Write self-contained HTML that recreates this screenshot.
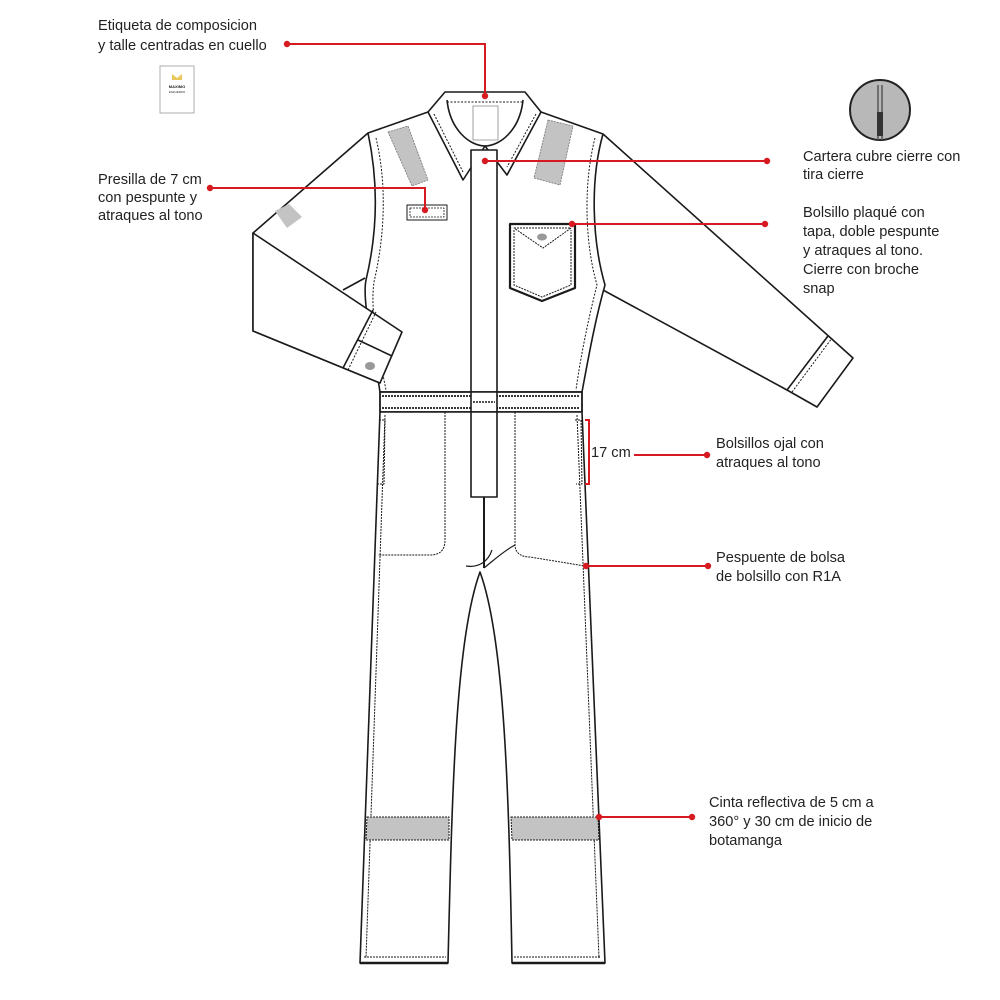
<!DOCTYPE html>
<html><head><meta charset="utf-8"><style>
body{margin:0;background:#fff;width:1000px;height:1000px;overflow:hidden}
svg{display:block}
text{font-family:"Liberation Sans",sans-serif;font-size:14.6px;fill:#222}
</style></head><body>
<svg width="1000" height="1000" viewBox="0 0 1000 1000" xmlns="http://www.w3.org/2000/svg">
<g fill="none" stroke="#1a1a1a" stroke-width="1.6" stroke-linejoin="round">
<path d="M368,133 L253,233 L253,331 L380,383 L402,332" fill="#fff"/>
<path d="M603,134 L853,358 L817,407 L787,390 L603,290" fill="#fff"/>
<path d="M787,390 L828,336" />
<path d="M792,392 L832,338" stroke-dasharray="2 1.5" stroke-width="1"/>
<path d="M368,133 L428,112 L541,112 L603,134 C590,180 592,240 605,285 C595,320 588,360 582,392 L380,392 C372,340 362,300 366,280 C378,230 378,180 368,133 Z" fill="#fff"/>
<path d="M376,138 C386,180 386,230 374,282 C370,310 378,350 386,390" stroke-dasharray="2 1.5" stroke-width="1"/>
<path d="M595,138 C584,180 584,240 597,285 C588,320 580,360 576,390" stroke-dasharray="2 1.5" stroke-width="1"/>
<path d="M253,233 L402,332 L380,383 L253,331 Z" fill="#fff"/>
<path d="M343,290 L365,278" />
<path d="M343,368 L373,310 M358,340 L392,356" />
<path d="M348,370 L376,312" stroke-dasharray="2 1.5" stroke-width="1"/>
<path d="M445,92 L525,92 L541,112 L507,175 L485,146 L463,180 L428,112 Z" fill="#fff"/>
<path d="M447,100 C450,130 470,146 485,146 C500,146 520,130 523,100" />
<path d="M447,102 L523,102" stroke-dasharray="2 1.5" stroke-width="1"/>
<path d="M434,114 L463,172 M536,114 L507,167" stroke-dasharray="2 1.5" stroke-width="1"/>
<rect x="473" y="106" width="25" height="34" stroke-width="0.8" stroke="#888"/>
<path d="M388,132 L408,126 L428,180 L412,186 Z" fill="#c3c3c3" stroke="#777" stroke-dasharray="2 1" stroke-width="0.8"/>
<path d="M548,120 L573,126 L560,185 L534,178 Z" fill="#c3c3c3" stroke="#777" stroke-dasharray="2 1" stroke-width="0.8"/>
<path d="M275,211 L289,204 L302,217 L287,228 Z" fill="#c3c3c3" stroke="none"/>
<ellipse cx="370" cy="366" rx="5" ry="4" fill="#999" stroke="none"/>
<rect x="407" y="205" width="40" height="15" stroke-width="1"/>
<rect x="410" y="208" width="34" height="9" stroke-width="0.8" stroke-dasharray="2 1"/>
<path d="M510,224 L575,224 L575,288 L542,301 L510,288 Z" fill="#fff" stroke-width="2.2"/>
<path d="M514,228 L571,228 L543,248 Z" stroke-dasharray="2 1" stroke-width="1"/>
<path d="M514,230 L514,285 L542,297 L571,285 L571,230" stroke-dasharray="2 1" stroke-width="1"/>
<ellipse cx="542" cy="237" rx="5" ry="3.5" fill="#999" stroke="none"/>
<rect x="471" y="150" width="26" height="347" fill="#fff"/>
<rect x="380" y="392" width="202" height="20" fill="#fff" stroke-width="1.8"/>
<path d="M382,396 L580,396 M382,408 L580,408" stroke-dasharray="2 1" stroke-width="1.8"/>
<rect x="471" y="392" width="26" height="20" fill="#fff"/>
<path d="M473,402 L495,402" stroke-dasharray="2 1" stroke-width="1.4"/>
<path d="M380,412 L360,963 L448,963 C452,800 455,640 480,572 C505,640 509,800 512,963 L605,963 L582,412 Z" fill="#fff"/>
<path d="M385,415 L366,958 M577,415 L599,958 M364,957 L446,957 M514,957 L601,957" stroke-dasharray="2 1" stroke-width="1"/>
<path d="M360,963 L448,963 M512,963 L605,963" stroke-width="2.4"/>
<rect x="471" y="412" width="26" height="85" fill="#fff"/>
<path d="M484,497 L484,568" stroke-width="2"/>
<path d="M466,566 C478,568 488,562 492,550 M484,568 C494,560 505,550 515,545" stroke-width="1.2"/>
<path d="M445,412 L445,540 C445,550 440,555 430,555 L378,555" stroke-dasharray="2 1" stroke-width="1"/>
<path d="M515,412 L515,545 C515,552 520,557 530,557 L585,566" stroke-dasharray="2 1" stroke-width="1"/>
<path d="M379,420 L385,420 L384,484 L378,484" stroke-dasharray="2 1" stroke-width="1"/>
<path d="M575,420 L581,420 L582,484 L576,484" stroke-dasharray="2 1" stroke-width="1"/>
<path d="M367,817 L449,817 L449,840 L366,840 Z" fill="#c3c3c3" stroke-dasharray="2 1" stroke-width="1"/>
<path d="M511,817 L598,817 L599,840 L512,840 Z" fill="#c3c3c3" stroke-dasharray="2 1" stroke-width="1"/>
</g>
<rect x="160" y="66" width="34" height="47" fill="#fff" stroke="#999" stroke-width="0.8"/>
<path d="M172,74 L177,78 L182,74 L182,80 L172,80 Z" fill="#e8c85a"/>
<text x="177" y="88" text-anchor="middle" style="font-size:4px;font-weight:bold">MAXIMO</text>
<text x="177" y="93" text-anchor="middle" style="font-size:3px">ESFUERZO</text>
<circle cx="880" cy="110" r="30" fill="#b8b8b8" stroke="#222" stroke-width="2"/>
<path d="M878,85 L878,140 M882,85 L882,140" stroke="#555" stroke-width="1.5"/>
<rect x="877" y="112" width="6" height="24" fill="#333"/>
<g stroke="#d71920" stroke-width="2" fill="none">
<path d="M287,44 L485,44 L485,96"/>
<path d="M210,188 L425,188 L425,210"/>
<path d="M485,161 L767,161"/>
<path d="M572,224 L765,224"/>
<path d="M585,420 L589,420 L589,484 L585,484"/>
<path d="M634,455 L707,455"/>
<path d="M586,566 L708,566"/>
<path d="M599,817 L692,817"/>
</g>
<g fill="#d71920">
<circle cx="287" cy="44" r="3.2"/><circle cx="485" cy="96" r="3.2"/>
<circle cx="210" cy="188" r="3.2"/><circle cx="425" cy="210" r="3.2"/>
<circle cx="485" cy="161" r="3.2"/><circle cx="767" cy="161" r="3.2"/>
<circle cx="572" cy="224" r="3.2"/><circle cx="765" cy="224" r="3.2"/>
<circle cx="707" cy="455" r="3.2"/>
<circle cx="586" cy="566" r="3.2"/><circle cx="708" cy="566" r="3.2"/>
<circle cx="599" cy="817" r="3.2"/><circle cx="692" cy="817" r="3.2"/>
</g>
<text x="98" y="30">Etiqueta de composicion</text>
<text x="98" y="50">y talle centradas en cuello</text>
<text x="98" y="184">Presilla de 7 cm</text>
<text x="98" y="202">con pespunte y</text>
<text x="98" y="220">atraques al tono</text>
<text x="803" y="161">Cartera cubre cierre con</text>
<text x="803" y="179">tira cierre</text>
<text x="803" y="217">Bolsillo plaqué con</text>
<text x="803" y="236">tapa, doble pespunte</text>
<text x="803" y="255">y atraques al tono.</text>
<text x="803" y="274">Cierre con broche</text>
<text x="803" y="293">snap</text>
<text x="591" y="457">17 cm</text>
<text x="716" y="448">Bolsillos ojal con</text>
<text x="716" y="467">atraques al tono</text>
<text x="716" y="562">Pespuente de bolsa</text>
<text x="716" y="581">de bolsillo con R1A</text>
<text x="709" y="807">Cinta reflectiva de 5 cm a</text>
<text x="709" y="826">360° y 30 cm de inicio de</text>
<text x="709" y="845">botamanga</text>
</svg>
</body></html>
